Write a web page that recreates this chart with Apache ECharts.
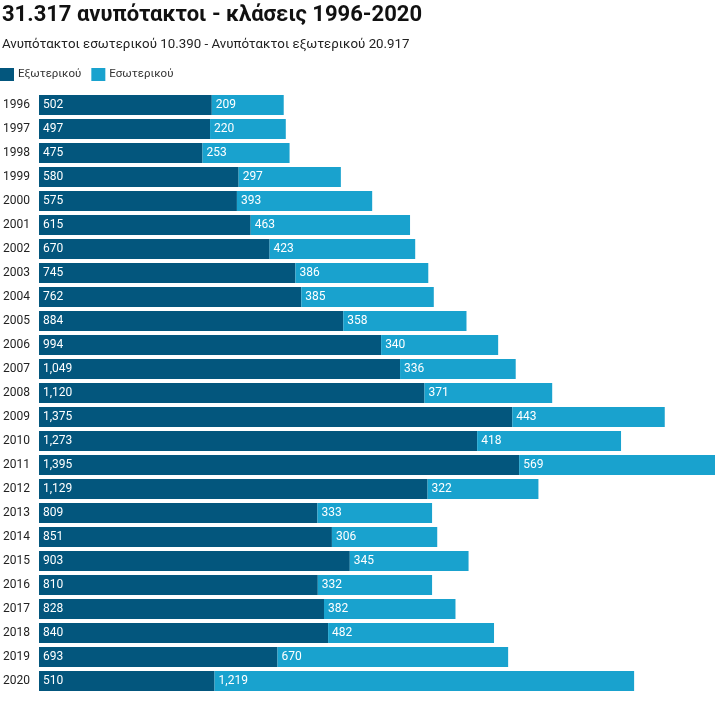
<!DOCTYPE html>
<html><head><meta charset="utf-8">
<script src="https://cdn.jsdelivr.net/npm/echarts@6/dist/echarts.min.js"></script>
<style>html,body{margin:0;padding:0;background:#fff}#c{width:716px;height:701px}</style>
</head><body><div id="c"></div>
<script>
const years = ['1996','1997','1998','1999','2000','2001','2002','2003','2004','2005','2006','2007','2008','2009','2010','2011','2012','2013','2014','2015','2016','2017','2018','2019','2020'];
const exoterikou = [502,497,475,580,575,615,670,745,762,884,994,1049,1120,1375,1273,1395,1129,809,851,903,810,828,840,693,510];
const esoterikou = [209,220,253,297,393,463,423,386,385,358,340,336,371,443,418,569,322,333,306,345,332,382,482,670,1219];
const titleText = '31.317 ανυπότακτοι - κλάσεις 1996-2020';
const subtitleText = 'Ανυπότακτοι εσωτερικού 10.390 - Ανυπότακτοι εξωτερικού 20.917';
const fmt = v => v.toLocaleString('en-US');
const chart = echarts.init(document.getElementById('c'));
const lbl = {show:true, position:'insideLeft', distance:4, color:'#fff', fontFamily:'Roboto', fontSize:12, formatter:p=>fmt(p.value)};
chart.setOption({
  animation:false,
  title:{text:titleText, subtext:subtitleText, left:-3, top:-1,
    textStyle:{fontFamily:'Roboto', fontWeight:'bold', fontSize:22, color:'#111'},
    subtextStyle:{fontFamily:'Roboto', fontSize:13.3, color:'#222'}, itemGap:12},
  legend:{left:-5, top:63, itemWidth:14, itemHeight:13, itemGap:10, icon:'rect',
    textStyle:{fontFamily:'Roboto', fontSize:11.5, color:'#333', padding:[0,0,0,-1]}},
  grid:{left:38, right:1, top:93, bottom:8},
  xAxis:{type:'value', min:0, max:1964, show:false},
  yAxis:{type:'category', data:years, inverse:true, axisLine:{show:false}, axisTick:{show:false},
    axisLabel:{fontFamily:'Roboto', fontSize:12, color:'#222', margin:36, align:'left'}},
  series:[
    {name:'Εξωτερικού', type:'bar', stack:'a', data:exoterikou, barWidth:20, itemStyle:{color:'#03567d'}, label:lbl},
    {name:'Εσωτερικού', type:'bar', stack:'a', data:esoterikou, barWidth:20, itemStyle:{color:'#19a2ce'}, label:lbl}
  ]
});
</script></body></html>
